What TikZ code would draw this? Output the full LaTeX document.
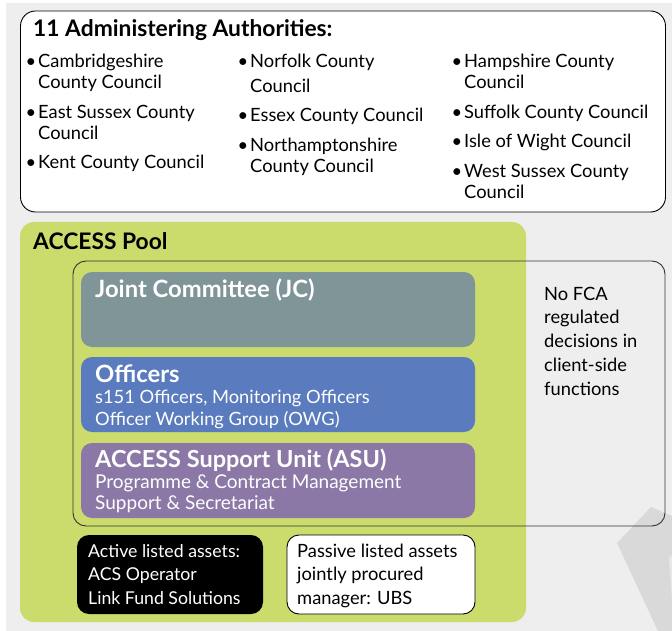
\documentclass[tikz,border=0pt]{standalone}
\usepackage{fontspec}
\setmainfont{Lato}
\usepackage{xcolor}
\usepackage{tikz}

\definecolor{bggray}{RGB}{238,238,238}
\definecolor{poolgreen}{RGB}{203,220,108}
\definecolor{jcgray}{RGB}{128,149,151}
\definecolor{offblue}{RGB}{90,123,189}
\definecolor{asupurple}{RGB}{139,120,166}
\definecolor{decogray}{RGB}{217,217,217}
\definecolor{notchgray}{RGB}{232,232,232}

\begin{document}
\begin{tikzpicture}[x=1pt,y=-1pt,inner sep=0pt]
    \tikzstyle{panel}=[rectangle, rounded corners=11pt]
    \tikzstyle{txt}=[anchor=base west, align=left, font=\fontsize{18.3}{21}\selectfont]
    \tikzstyle{head}=[anchor=base west, font=\fontsize{22.8}{24}\selectfont\bfseries]
    \tikzstyle{boxhead}=[anchor=base west, text=white, font=\fontsize{23.8}{24}\selectfont\bfseries]
    \newcommand{\itm}{\llap{\textbullet\hspace{2pt}}}
    \useasboundingbox (0,0) rectangle (672,631);
    \fill [white] (0,0) rectangle (672,631);
    \fill [bggray] (6,3) rectangle (672,631);

    % decoration, bottom right
    \fill [decogray] (617,543) -- (651,507) -- (672,516) -- (672,631) -- (658,631) -- cycle;
    \fill [notchgray] (669,558) -- (672,555) -- (672,600) -- cycle;

    % authorities (base = last line)
    \node [panel, rounded corners=15pt, draw, fill=white, line width=0.9pt, minimum width=645pt, minimum height=201pt] (auth) at (343,111.5) {};
    \node [head] (authhead) at (33,37) {11 Administering Authorities:};
    \node [txt] (cam) at (38,89) {\itm Cambridgeshire\\County Council};
    \node [txt] (esu) at (38,140) {\itm East Sussex County\\Council};
    \node [txt] (ken) at (38,169) {\itm Kent County Council};
    \node [txt] (nor) at (250,93) {\itm Norfolk County\\[4pt]Council};
    \node [txt] (ess) at (250,122) {\itm Essex County Council};
    \node [txt] (nth) at (250,173) {\itm Northamptonshire\\County Council};
    \node [txt] (ham) at (464,89) {\itm Hampshire County\\Council};
    \node [txt] (suf) at (464,119) {\itm Suffolk County Council};
    \node [txt] (iow) at (464,148) {\itm Isle of Wight Council};
    \node [txt] (wsu) at (464,199) {\itm West Sussex County\\Council};

    % pool
    \node [panel, rounded corners=14pt, fill=poolgreen, minimum width=506pt, minimum height=400pt] (pool) at (273,422) {};
    \node [head] (poolhead) at (33,249) {ACCESS Pool};

    \node [panel, fill=jcgray, minimum width=394pt, minimum height=75pt] (jc) at (278,309.5) {};
    \node [boxhead] (jchead) at (95,297) {Joint Committee (JC)};

    \node [panel, fill=offblue, minimum width=394pt, minimum height=75pt] (off) at (278,394.5) {};
    \node [boxhead] (offhead) at (95,382) {Officers};
    \node [txt, text=white, font=\fontsize{18.3}{22}\selectfont] (offtxt) at (95,425) {s151 Officers, Monitoring Officers\\Officer Working Group (OWG)};

    \node [panel, fill=asupurple, minimum width=394pt, minimum height=75pt] (asu) at (278,480.5) {};
    \node [boxhead, font=\fontsize{23.5}{24}\selectfont\bfseries] (asuhead) at (95,467) {ACCESS Support Unit (ASU)};
    \node [txt, text=white, font=\fontsize{19}{21}\selectfont] (asutxt) at (95,509) {Programme \& Contract Management\\Support \& Secretariat};

    % client side outline
    \node [panel, rounded corners=13pt, draw=black!80, line width=0.9pt, minimum width=592pt, minimum height=265pt] (client) at (369,393.5) {};
    \node [txt, font=\fontsize{18.3}{23.75}\selectfont] (fca) at (544,395) {No FCA\\regulated\\decisions in\\client-side\\functions};

    % managers
    \node [panel, rounded corners=12pt, fill=black, minimum width=186pt, minimum height=79pt] (active) at (170,574.5) {};
    \node [txt, text=white, font=\fontsize{17.7}{23.5}\selectfont] (acttxt) at (88,604) {Active listed assets:\\ACS Operator\\Link Fund Solutions};
    \node [panel, rounded corners=12pt, draw, fill=white, line width=0.9pt, minimum width=188pt, minimum height=79pt] (passive) at (381,574.5) {};
    \node [txt, font=\fontsize{18.3}{23.5}\selectfont] (pastxt) at (297,604) {Passive listed assets\\jointly procured\\manager: UBS};
\end{tikzpicture}
\end{document}
